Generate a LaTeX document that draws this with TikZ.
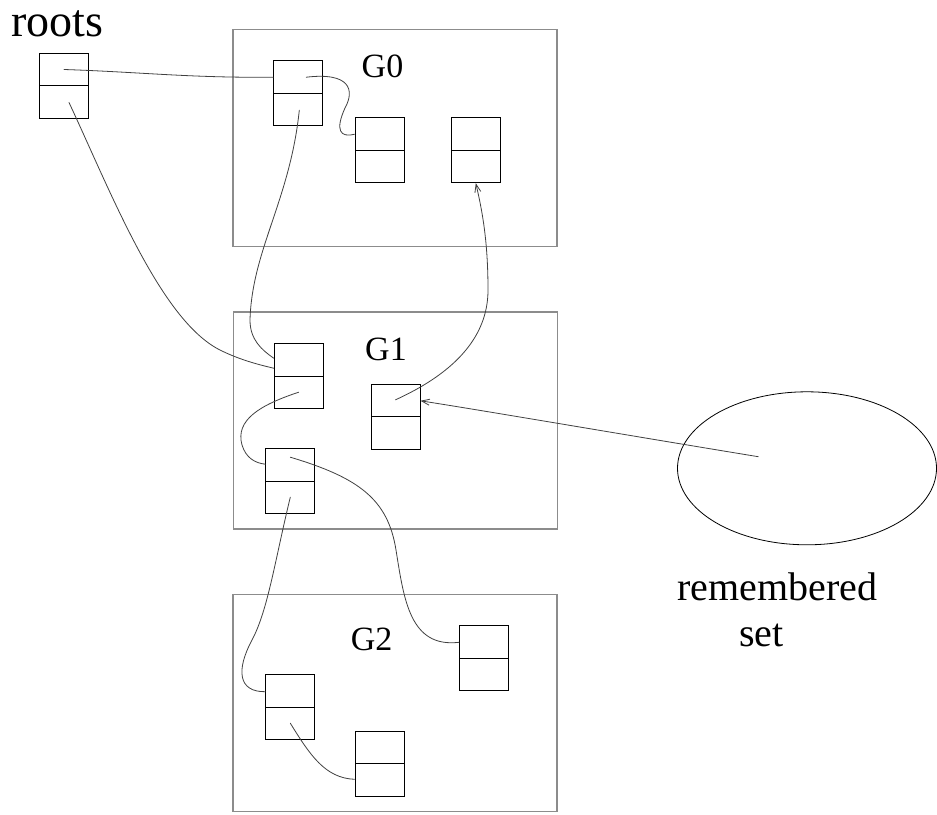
\documentclass[tikz,border=0pt]{standalone}
\usepackage{fontspec}
\setmainfont{Liberation Serif}
\usetikzlibrary{calc,shapes.geometric,arrows.meta}

\begin{document}
\begin{tikzpicture}[x=1pt, y=-1pt,
        >={Straight Barb[length=8pt,width=6pt]}, line cap=round,
        obj/.style={draw, line width=1pt, minimum width=49pt, minimum height=65pt,
                    inner sep=0pt,
                    path picture={\draw[line width=1pt] (path picture bounding box.west)
                                  -- (path picture bounding box.east);}},
        gen/.style={draw=black!45, line width=1.3pt, minimum width=324pt,
                    minimum height=217pt, inner sep=0pt},
        ptr/.style={draw=black!75, line width=0.8pt},
        glabel/.style={anchor=base, font=\fontsize{34}{40}\selectfont}
       ]
        \useasboundingbox (0,0) rectangle (937,814);

        % generations
        \node [gen] (g0) at (395,138) {};
        \node [gen] (g1) at (395.3,420.5) {};
        \node [gen] (g2) at (395,702.9) {};
        \node [glabel] (g0l) at (382.5,77.5)  {G0};
        \node [glabel] (g1l) at (386,360.7)   {G1};
        \node [glabel] (g2l) at (371.7,650.7) {G2};

        % roots
        \node [anchor=base west, font=\fontsize{46}{50}\selectfont] (rootsl) at (8,36.5) {roots};
        \node [obj] (rt) at (64,85.5) {};

        % objects
        \node [obj] (a0) at (298.3,93.2)  {};
        \node [obj] (b0) at (379.5,150.2) {};
        \node [obj] (c0) at (475.8,150.2) {};
        \node [obj] (a1) at (298.7,376.2) {};
        \node [obj] (b1) at (395.5,416.8) {};
        \node [obj] (c1) at (290.3,481.2) {};
        \node [obj] (a2) at (290.3,707.2) {};
        \node [obj] (b2) at (379.5,763.7) {};
        \node [obj] (c2) at (484,658.3)   {};

        % remembered set
        \node [draw, ellipse, line width=0.8pt, minimum width=259pt, minimum height=153pt,
               inner sep=0pt] (rs) at (807,468.3) {};
        \coordinate (rsp) at (758.3,456.7);
        \node [anchor=base, font=\fontsize{40}{44}\selectfont] (rsl1) at (777.5,600.7) {remembered};
        \node [anchor=base, font=\fontsize{40}{44}\selectfont] (rsl2) at (761.3,646.7) {set};

        % pointers
        \draw [ptr] ($(rt.center)+(0,-16)$) .. controls (140,72) and (190,78) ..
              ($(a0.west)+(0,-16)$);
        \draw [ptr] ($(a0.center)+(8,-16)$) .. controls (350,72) and (355,90) .. (345,108)
              .. controls (335,130) and (340,138) .. ($(b0.west)+(0,-16)$);
        \draw [ptr] ($(a0.center)+(1,17)$) .. controls (290,200) and (252,250) .. (250,320)
              .. controls (250,340) and (262,350) .. ($(a1.west)+(0,-18)$);
        \draw [ptr] ($(rt.center)+(5,17)$) .. controls (110,190) and (160,320) .. (220,350)
              .. controls (240,360) and (260,365) .. ($(a1.west)+(0,-8)$);
        \draw [ptr,->] ($(b1.center)+(0,-17)$) .. controls (450,375) and (488,340) .. (488,290)
              .. controls (488,240) and (482,210) .. (c0.south);
        \draw [ptr,->] (rsp) .. controls (620,434) and (480,410) .. ($(b1.east)+(0,-16)$);
        \draw [ptr] ($(a1.center)+(0,16)$) .. controls (260,405) and (235,420) .. (242,445)
              .. controls (246,458) and (255,463) .. ($(c1.west)+(0,-17)$);
        \draw [ptr] ($(c1.center)+(0,-24)$) .. controls (360,478) and (388,500) .. (396,550)
              .. controls (404,600) and (410,648) .. ($(c2.west)+(0,-16)$);
        \draw [ptr] ($(c1.center)+(0,16)$) .. controls (275,560) and (268,610) .. (252,640)
              .. controls (236,670) and (238,692) .. ($(a2.west)+(0,-15.5)$);
        \draw [ptr] ($(a2.center)+(0,16)$) .. controls (310,755) and (325,778) ..
              ($(b2.west)+(0,15.6)$);
\end{tikzpicture}
\end{document}
